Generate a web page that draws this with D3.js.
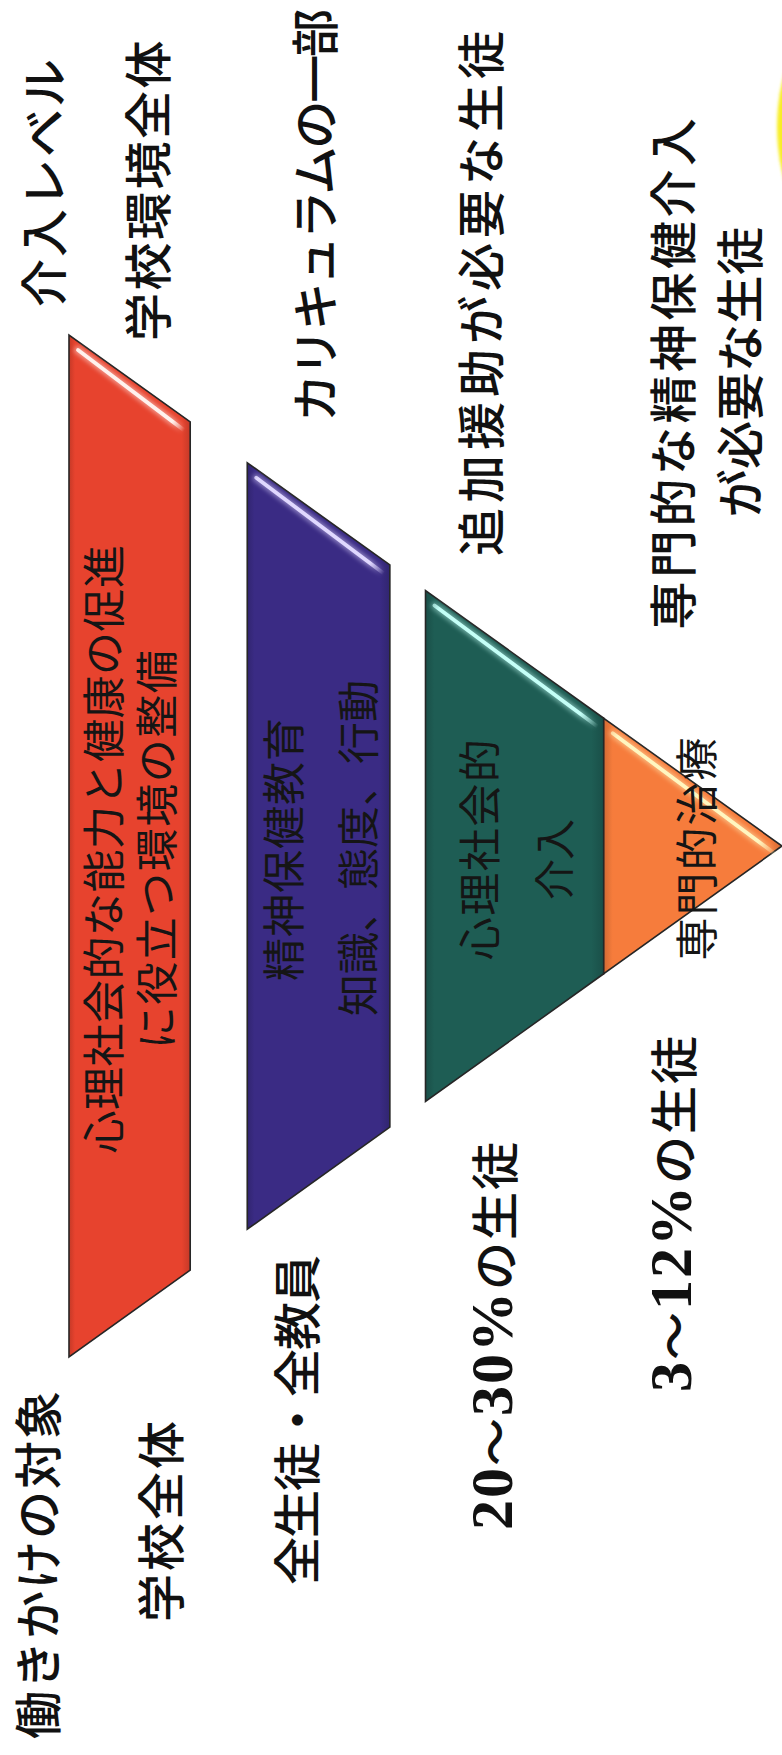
<!DOCTYPE html>
<html><head><meta charset="utf-8">
<script src="https://cdn.jsdelivr.net/npm/d3@7/dist/d3.min.js"></script>
<style>html,body{margin:0;padding:0;background:#fff}svg{display:block}</style>
</head><body>
<script>
// ---------- data ----------
const headers = ["働きかけの対象", "介入レベル"];
const targets = ["学校全体", "全生徒・全教員", "20～30%の生徒", "3～12%の生徒"];
const levelLabels = [["学校環境全体"], ["カリキュラムの一部"], ["追加援助が必要な生徒"], ["専門的な精神保健介入", "が必要な生徒"]];
const bandLabels = [["心理社会的な能力と健康の促進", "に役立つ環境の整備"], ["精神保健教育", "知識、態度、行動"], ["心理社会的", "介入"], ["専門的治療"]];
const bandStart = [0, 0.25, 0.5, 0.75];
const bandEnd = [0.17, 0.45, 0.75, 1.0];

// ---------- style / layout ----------
const bandColors = ["#e7432e", "#3a2b84", "#1e5d54", "#f67c3c"];
const glossColors = ["#fff2ee", "#e0d8ff", "#c4fff7", "#fff6c0"];
const W = 782, H = 1755;           // screen
const SW = H, SH = W;              // slide (drawn rotated -90deg)
const CU = 909;                    // pyramid centre along slide width
const depth = d3.scaleLinear().domain([0, 1]).range([69, 782]);
const half = d3.scaleLinear().domain([0, 1]).range([511, 0]);

const svg = d3.select("body").append("svg").attr("width", W).attr("height", H);
const defs = svg.append("defs");
const g = svg.append("g").attr("transform", `translate(0,${H}) rotate(-90)`);

// yellow glow at the corner
defs.append("filter").attr("id", "soft").append("feGaussianBlur").attr("stdDeviation", 1.5);
defs.append("filter").attr("id", "blur2").attr("x", "-20%").attr("y", "-20%").attr("width", "140%").attr("height", "140%")
  .append("feGaussianBlur").attr("stdDeviation", 2.2);
g.append("circle").attr("cx", SW - 127).attr("cy", SH + 200).attr("r", 205)
  .attr("fill", "#f8ee28").attr("filter", "url(#soft)");

// bands
const bands = bandStart.map((s, i) => ({s, e: bandEnd[i], i}));
bands.forEach(b => {
  const c = d3.color(bandColors[b.i]);
  const lg = defs.append("linearGradient").attr("id", "bg" + b.i)
    .attr("x1", 0).attr("y1", 0).attr("x2", 0).attr("y2", 1);
  lg.append("stop").attr("offset", "0%").attr("stop-color", c.darker(0.45));
  lg.append("stop").attr("offset", "5%").attr("stop-color", c);
  lg.append("stop").attr("offset", "93%").attr("stop-color", c);
  lg.append("stop").attr("offset", "100%").attr("stop-color", c.darker(0.45));
  const gl = defs.append("linearGradient").attr("id", "gl" + b.i)
    .attr("gradientUnits", "userSpaceOnUse")
    .attr("x1", CU + half(b.s)).attr("y1", depth(b.s))
    .attr("x2", CU + half(b.e)).attr("y2", depth(b.e));
  gl.append("stop").attr("offset", "0%").attr("stop-color", glossColors[b.i]).attr("stop-opacity", 0);
  gl.append("stop").attr("offset", "10%").attr("stop-color", glossColors[b.i]).attr("stop-opacity", 1);
  gl.append("stop").attr("offset", "90%").attr("stop-color", glossColors[b.i]).attr("stop-opacity", 1);
  gl.append("stop").attr("offset", "100%").attr("stop-color", glossColors[b.i]).attr("stop-opacity", 0);
});

g.selectAll("path.band").data(bands).join("path").attr("class", "band")
  .attr("d", b => {
    const v0 = depth(b.s), v1 = depth(b.e);
    const pts = [[CU - half(b.s), v0], [CU + half(b.s), v0], [CU + half(b.e), v1], [CU - half(b.e), v1]];
    return d3.line()(pts) + "Z";
  })
  .attr("fill", b => `url(#bg${b.i})`)
  .attr("stroke", "#262626").attr("stroke-width", 1.6).attr("stroke-linejoin", "miter");

// gloss highlight along the upper slanted edge
const glossLine = sel => sel
  .attr("x1", b => CU + half(b.s) - 15).attr("y1", b => depth(b.s) + 9)
  .attr("x2", b => CU + half(b.e) - 10).attr("y2", b => depth(b.e) - 4)
  .attr("stroke", b => `url(#gl${b.i})`).attr("stroke-linecap", "round");
g.selectAll("line.glow").data(bands).join("line").attr("class", "glow").call(glossLine)
  .attr("stroke-width", 8).attr("opacity", 0.45).attr("filter", "url(#blur2)");
g.selectAll("line.gloss").data(bands).join("line").attr("class", "gloss").call(glossLine)
  .attr("stroke-width", 3.8);

// band texts
const bandTextV = [[101, 154], [281, 355], [477, 552], [694]];
const bandTextU = [[CU - 3, CU - 3], [CU - 3, CU - 2], [CU - 3, CU - 14], [CU - 2]];
const bandFont = [[43, 43], [43, 42], [43, 41], [43]];
const bandSpacing = [[0.5, 1.5], [1, 0], [1.5, -1], [2]];
bandLabels.forEach((lines, i) => {
  lines.forEach((t, j) => {
    g.append("text").attr("x", bandTextU[i][j]).attr("y", bandTextV[i][j])
      .attr("text-anchor", "middle").attr("dominant-baseline", "central")
      .attr("font-family", "'Noto Sans CJK JP', sans-serif")
      .attr("font-size", bandFont[i][j]).attr("letter-spacing", bandSpacing[i][j])
      .attr("fill", "#151515").text(t);
  });
});

// outside labels
function label(x, y, str, anchor, spacing) {
  const size = 48;
  const t = g.append("text").attr("x", x).attr("y", y).attr("text-anchor", anchor)
    .attr("dominant-baseline", "central").attr("font-size", size).attr("fill", "#111")
    .attr("font-family", "'Noto Sans CJK JP', sans-serif").attr("font-weight", 500)
    .attr("letter-spacing", spacing);
  str.split(/([0-9%]+)/).filter(p => p).forEach(p => {
    const ts = t.append("tspan").text(p);
    if (/^[0-9%]+$/.test(p)) ts.attr("font-family", "'Liberation Serif', serif")
      .attr("font-weight", "bold").attr("font-size", size * 1.25);
  });
  return t;
}
// left column (働きかけの対象)
label(16, 35, headers[0], "start", 2);
const targetV = [158, 294, 492, 671];
const targetStart = [133, 170, 225, 363];
const targetSpacing = [3, -1, 2, 2];
targets.forEach((t, i) => label(targetStart[i], targetV[i], t, "start", targetSpacing[i]));
// right column (介入レベル)
label(1448, 41, headers[1], "start", 2);
const levelV = [145, 312, 478, 670];
const levelStart = [1414, 1333, 1199];
const levelSpacing = [2.5, -2.2, 5];
const lastSpacing = [3.5, 0.5];
levelLabels.forEach((lines, i) => {
  if (lines.length === 1) label(levelStart[i], levelV[i], lines[0], "start", levelSpacing[i]);
  else lines.forEach((t, j) => label(1383, levelV[i] + j * 67, t, "middle", lastSpacing[j]));
});
</script>
</body></html>
